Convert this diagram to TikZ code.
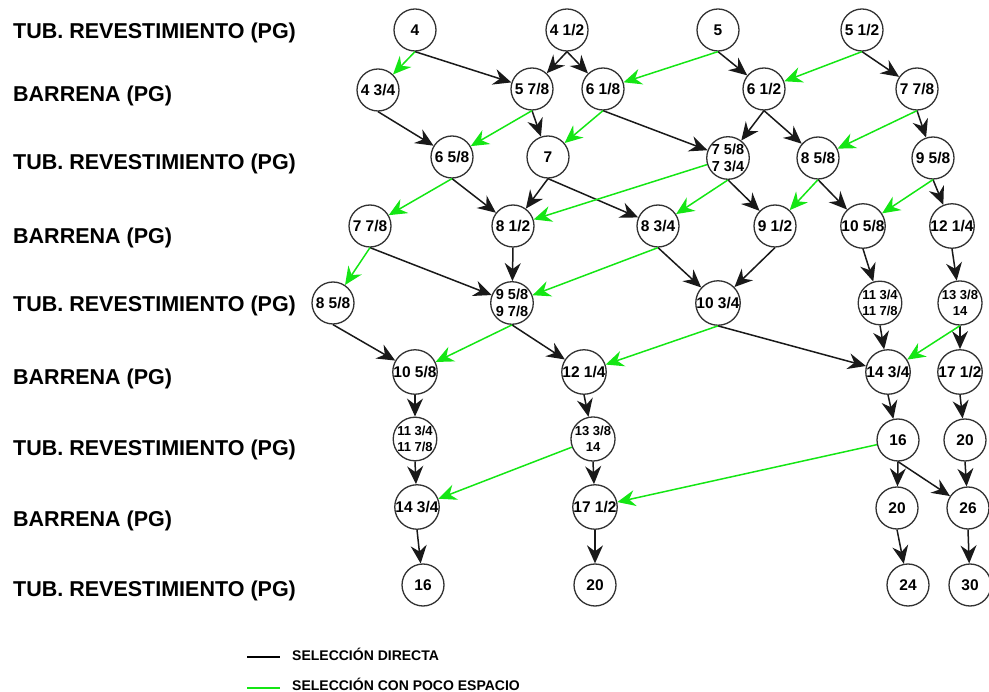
\documentclass[tikz,border=0pt]{standalone}
\usepackage{fontspec}
\setmainfont{Liberation Sans}
\usetikzlibrary{arrows.meta}
\definecolor{selgreen}{RGB}{20,230,20}
\definecolor{ringgray}{RGB}{50,50,50}
\begin{document}
\begin{tikzpicture}[x=1pt,y=-1pt,
  nd/.style={circle,draw=ringgray,line width=1.3pt,minimum size=42pt,inner sep=0pt,
    font=\fontsize{15.5}{18}\selectfont\bfseries,align=center},
  ndm/.style={nd,font=\fontsize{14.5}{17}\selectfont\bfseries},
  nds/.style={nd,font=\fontsize{13}{16}\selectfont\bfseries},
  rowlab/.style={anchor=west,inner sep=0pt,font=\fontsize{21.5}{24}\selectfont\bfseries},
  leglab/.style={anchor=west,inner sep=0pt,font=\fontsize{14}{16}\selectfont\bfseries},
  blk/.style={line width=1.5pt,draw=black!90,-{Stealth[length=18pt,width=16pt,inset=6pt]}},
  grn/.style={blk,draw=selgreen},
  legline/.style={line width=1.4pt}
]
\useasboundingbox (0,0) rectangle (989,692);

% row captions
\node[rowlab] (l1) at (13,33)  {TUB. REVESTIMIENTO (PG)};
\node[rowlab] (l2) at (13,96)  {BARRENA (PG)};
\node[rowlab] (l3) at (13,164) {TUB. REVESTIMIENTO (PG)};
\node[rowlab] (l4) at (13,238) {BARRENA (PG)};
\node[rowlab] (l5) at (13,306) {TUB. REVESTIMIENTO (PG)};
\node[rowlab] (l6) at (13,379) {BARRENA (PG)};
\node[rowlab] (l7) at (13,450) {TUB. REVESTIMIENTO (PG)};
\node[rowlab] (l8) at (13,521) {BARRENA (PG)};
\node[rowlab] (l9) at (13,591) {TUB. REVESTIMIENTO (PG)};

% casing / bit sizes
\node[nd] (a1) at (415,30) {4};
\node[nd] (a2) at (567,30) {4 1/2};
\node[nd] (a3) at (718,30) {5};
\node[nd] (a4) at (862,30) {5 1/2};

\node[nd] (b1) at (378,90) {4 3/4};
\node[nd] (b2) at (532,89) {5 7/8};
\node[nd] (b3) at (603,89) {6 1/8};
\node[nd] (b4) at (764,89) {6 1/2};
\node[nd] (b5) at (917,89) {7 7/8};

\node[nd]  (c1) at (452,157) {6 5/8};
\node[nd]  (c2) at (548,157) {7};
\node[ndm] (c3) at (728,158) {7 5/8\\7 3/4};
\node[nd]  (c4) at (818,158) {8 5/8};
\node[nd]  (c5) at (933,158) {9 5/8};

\node[nd] (d1) at (370,226) {7 7/8};
\node[nd] (d2) at (513,226) {8 1/2};
\node[nd] (d3) at (658,226) {8 3/4};
\node[nd] (d4) at (775,226) {9 1/2};
\node[nd] (d5) at (863,226) {10 5/8};
\node[nd] (d6) at (952,226) {12 1/4};

\node[nd]  (e1) at (333,303) {8 5/8};
\node[ndm] (e2) at (512,303) {9 5/8\\9 7/8};
\node[nd]  (e3) at (718,303) {10 3/4};
\node[nds] (e4) at (880,303) {11 3/4\\11 7/8};
\node[nds] (e5) at (960,303) {13 3/8\\14};

\node[nd] (f1) at (415,372) {10 5/8};
\node[nd] (f2) at (584,372) {12 1/4};
\node[nd] (f3) at (888,372) {14 3/4};
\node[nd] (f4) at (960,372) {17 1/2};

\node[nds] (g1) at (415,439) {11 3/4\\11 7/8};
\node[nds] (g2) at (593,439) {13 3/8\\14};
\node[nd]  (g3) at (898,440) {16};
\node[nd]  (g4) at (965,440) {20};

\node[nd] (h1) at (417,507) {14 3/4};
\node[nd] (h2) at (595,507) {17 1/2};
\node[nd] (h3) at (897,508) {20};
\node[nd] (h4) at (968,508) {26};

\node[nd] (i1) at (423,585) {16};
\node[nd] (i2) at (595,585) {20};
\node[nd] (i3) at (908,585) {24};
\node[nd] (i4) at (970,585) {30};

% direct selection
\foreach \s/\t in {a1/b2,a2/b2,a2/b3,a3/b4,a4/b5,
                   b1/c1,b2/c2,b3/c3,b4/c3,b4/c4,b5/c5,
                   c1/d2,c2/d2,c2/d3,c3/d4,c4/d5,c5/d6,
                   d1/e2,d2/e2,d3/e3,d4/e3,d5/e4,d6/e5,
                   e1/f1,e2/f2,e3/f3,e4/f3,e5/f4,
                   f1/g1,f2/g2,f3/g3,f4/g4,
                   g1/h1,g2/h2,g3/h3,g3/h4,g4/h4,
                   h1/i1,h2/i2,h3/i3,h4/i4}
  \draw[blk] (\s.south) -- (\t);

% selection with little clearance
\foreach \s/\t in {a1/b1,a3/b3,a4/b4,
                   b2/c1,b3/c2,b5/c4,
                   c1/d1,c3/d3,c4/d4,c5/d5,
                   d1/e1,d3/e2,
                   e2/f1,e3/f2,e5/f3}
  \draw[grn] (\s.south) -- (\t);
\draw[grn] (c3) -- (d2);
\draw[grn] (g2) -- (h1);
\draw[grn] (g3) -- (h2);

% legend
\coordinate (k1) at (247,657);
\coordinate (k2) at (280,657);
\coordinate (k3) at (247,688);
\coordinate (k4) at (280,688);
\draw[legline,black] (k1) -- (k2);
\draw[legline,selgreen] (k3) -- (k4);
\node[leglab] (t1) at (292,654) {SELECCIÓN DIRECTA};
\node[leglab] (t2) at (292,684) {SELECCIÓN CON POCO ESPACIO};
\end{tikzpicture}
\end{document}
